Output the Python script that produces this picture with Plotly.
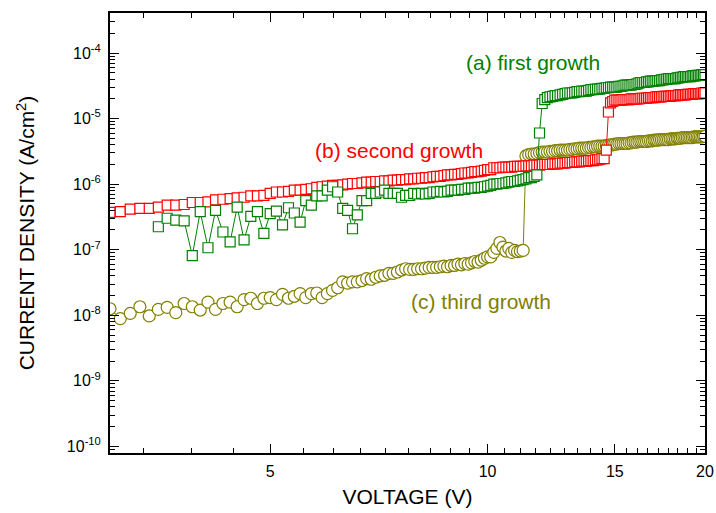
import plotly.graph_objects as go

# Voltage sweep (V)
voltage = [
    3.0, 3.1, 3.2, 3.3, 3.4, 3.5, 3.6, 3.7, 3.8, 3.9,
    4.0, 4.1, 4.2, 4.3, 4.4, 4.5, 4.6, 4.7, 4.8, 4.9,
    5.0, 5.1, 5.2, 5.3, 5.4, 5.5, 5.6, 5.7, 5.8, 5.9,
    6.0, 6.1, 6.2, 6.3, 6.4, 6.5, 6.6, 6.7, 6.8, 6.9,
    7.0, 7.1, 7.2, 7.3, 7.4, 7.5, 7.6, 7.7, 7.8, 7.9,
    8.0, 8.1, 8.2, 8.3, 8.4, 8.5, 8.6, 8.7, 8.8, 8.9,
    9.0, 9.1, 9.2, 9.3, 9.4, 9.5, 9.6, 9.7, 9.8, 9.9,
    10.0, 10.1, 10.2, 10.3, 10.4, 10.5, 10.6, 10.7, 10.8, 10.9,
    11.0, 11.1, 11.2, 11.3, 11.4, 11.5, 11.6, 11.7, 11.8, 11.9,
    12.0, 12.1, 12.2, 12.3, 12.4, 12.5, 12.6, 12.7, 12.8, 12.9,
    13.0, 13.1, 13.2, 13.3, 13.4, 13.5, 13.6, 13.7, 13.8, 13.9,
    14.0, 14.1, 14.2, 14.3, 14.4, 14.5, 14.6, 14.7, 14.8, 14.9,
    15.0, 15.1, 15.2, 15.3, 15.4, 15.5, 15.6, 15.7, 15.8, 15.9,
    16.0, 16.1, 16.2, 16.3, 16.4, 16.5, 16.6, 16.7, 16.8, 16.9,
    17.0, 17.1, 17.2, 17.3, 17.4, 17.5, 17.6, 17.7, 17.8, 17.9,
    18.0, 18.1, 18.2, 18.3, 18.4, 18.5, 18.6, 18.7, 18.8, 18.9,
    19.0, 19.1, 19.2, 19.3, 19.4, 19.5, 19.6, 19.7, 19.8, 19.9,
    20.0,
]

# Current density, as decade exponents: J = 10**value (A/cm^2)
# (b) second growth, 3.0 V .. 20.0 V
second_log_j = [
    -6.43, -6.42, -6.38, -6.37, -6.37, -6.35, -6.32, -6.32, -6.31, -6.28,
    -6.28, -6.27, -6.24, -6.23, -6.22, -6.21, -6.20, -6.18, -6.18, -6.17,
    -6.14, -6.12, -6.12, -6.11, -6.09, -6.09, -6.08, -6.07, -6.05, -6.04,
    -6.03, -6.02, -6.02, -6.01, -6.00, -5.99, -5.99, -5.98, -5.97, -5.97,
    -5.96, -5.96, -5.95, -5.95, -5.94, -5.94, -5.93, -5.93, -5.92, -5.92,
    -5.91, -5.91, -5.90, -5.90, -5.89, -5.88, -5.88, -5.87, -5.86, -5.86,
    -5.85, -5.85, -5.84, -5.83, -5.83, -5.82, -5.81, -5.81, -5.80, -5.79,
    -5.78, -5.78, -5.75, -5.75, -5.75, -5.74, -5.74, -5.74, -5.74, -5.73,
    -5.73, -5.73, -5.73, -5.72, -5.72, -5.72, -5.71, -5.71, -5.71, -5.70,
    -5.70, -5.70, -5.70, -5.69, -5.69, -5.69, -5.68, -5.68, -5.68, -5.67,
    -5.67, -5.67, -5.66, -5.66, -5.66, -5.65, -5.65, -5.65, -5.64, -5.64,
    -5.64, -5.63, -5.63, -5.62, -5.61, -5.61, -5.48, -4.90, -4.76, -4.74,
    -4.72, -4.72, -4.72, -4.72, -4.71, -4.71, -4.71, -4.71, -4.70, -4.70,
    -4.70, -4.70, -4.70, -4.69, -4.69, -4.69, -4.69, -4.68, -4.68, -4.68,
    -4.68, -4.67, -4.67, -4.67, -4.67, -4.66, -4.66, -4.66, -4.66, -4.66,
    -4.65, -4.65, -4.65, -4.65, -4.64, -4.64, -4.64, -4.64, -4.64, -4.63,
    -4.63, -4.63, -4.63, -4.62, -4.62, -4.62, -4.62, -4.62, -4.61, -4.61,
    -4.61,
]

# (a) first growth, 3.5 V .. 20.0 V
first_start_index = 5
first_log_j = [
    -6.65, -6.52, -6.55, -6.56, -7.09,
    -6.42, -6.97, -6.40, -6.73, -6.88, -6.35, -6.85, -6.49, -6.42, -6.75,
    -6.45, -6.41, -6.62, -6.36, -6.44, -6.58, -6.25, -6.32, -6.18, -6.18,
    -6.09, -6.04, -6.12, -6.37, -6.40, -6.68, -6.47, -6.25, -6.25, -6.14,
    -6.14, -6.12, -6.09, -6.14, -6.14, -6.14, -6.20, -6.17, -6.17, -6.14,
    -6.15, -6.14, -6.15, -6.14, -6.12, -6.12, -6.11, -6.12, -6.11, -6.09,
    -6.09, -6.09, -6.08, -6.08, -6.06, -6.06, -6.06, -6.05, -6.05, -6.04,
    -6.03, -6.02, -6.00, -6.00, -5.99, -5.99, -5.98, -5.97, -5.96, -5.96,
    -5.95, -5.94, -5.93, -5.92, -5.90, -5.90, -5.88, -5.86, -5.22, -4.77,
    -4.71, -4.68, -4.67, -4.66, -4.65, -4.65, -4.64, -4.63, -4.62, -4.61,
    -4.61, -4.61, -4.60, -4.59, -4.59, -4.58, -4.58, -4.58, -4.57, -4.56,
    -4.56, -4.55, -4.55, -4.55, -4.54, -4.54, -4.53, -4.53, -4.52, -4.52,
    -4.52, -4.52, -4.51, -4.51, -4.50, -4.49, -4.49, -4.49, -4.49, -4.48,
    -4.48, -4.47, -4.46, -4.45, -4.45, -4.45, -4.44, -4.44, -4.43, -4.43,
    -4.43, -4.42, -4.42, -4.42, -4.41, -4.41, -4.40, -4.40, -4.39, -4.39,
    -4.39, -4.39, -4.39, -4.38, -4.38, -4.37, -4.37, -4.36, -4.36, -4.36,
    -4.36, -4.36, -4.35, -4.35, -4.35, -4.34, -4.34, -4.34, -4.33, -4.33,
    -4.33,
]

# (c) third growth, 3.0 V .. 20.0 V
third_log_j = [
    -7.90, -8.05, -7.97, -7.87, -8.01, -7.91, -7.88, -7.96, -7.82, -7.87,
    -7.92, -7.80, -7.91, -7.82, -7.80, -7.87, -7.76, -7.74, -7.82, -7.74,
    -7.73, -7.76, -7.68, -7.74, -7.71, -7.67, -7.73, -7.67, -7.66, -7.73,
    -7.67, -7.62, -7.58, -7.49, -7.51, -7.49, -7.49, -7.47, -7.44, -7.45,
    -7.42, -7.40, -7.39, -7.36, -7.36, -7.34, -7.31, -7.29, -7.30, -7.30,
    -7.29, -7.29, -7.28, -7.27, -7.27, -7.27, -7.26, -7.25, -7.26, -7.24,
    -7.24, -7.22, -7.23, -7.21, -7.22, -7.20, -7.18, -7.19, -7.16, -7.13,
    -7.11, -7.11, -7.04, -6.98, -6.89, -6.96, -7.02, -6.98, -7.04, -7.01,
    -7.03, -7.02, -7.01, -5.57, -5.55, -5.54, -5.54, -5.53, -5.52, -5.51,
    -5.51, -5.51, -5.50, -5.50, -5.49, -5.49, -5.48, -5.48, -5.48, -5.48,
    -5.47, -5.47, -5.46, -5.46, -5.45, -5.45, -5.45, -5.45, -5.44, -5.44,
    -5.43, -5.43, -5.42, -5.42, -5.42, -5.42, -5.41, -5.41, -5.40, -5.40,
    -5.39, -5.39, -5.38, -5.38, -5.38, -5.38, -5.38, -5.37, -5.37, -5.36,
    -5.36, -5.36, -5.35, -5.35, -5.35, -5.35, -5.35, -5.34, -5.34, -5.34,
    -5.33, -5.33, -5.33, -5.32, -5.32, -5.32, -5.32, -5.32, -5.32, -5.31,
    -5.31, -5.31, -5.31, -5.30, -5.30, -5.30, -5.29, -5.29, -5.29, -5.29,
    -5.29, -5.29, -5.29, -5.28, -5.28, -5.28, -5.28, -5.28, -5.28, -5.27,
    -5.27,
]

series_names = ["(c) third growth", "(b) second growth", "(a) first growth"]
x_tick_values = [5, 10, 15, 20]
x_tick_labels = ["5", "10", "15", "20"]
y_tick_exponents = [-10, -9, -8, -7, -6, -5, -4]

GREEN = "#008000"
RED = "#ff0000"
OLIVE = "#808000"
FONT = "Arial, Liberation Sans, sans-serif"

first_j = [10 ** v for v in first_log_j]
second_j = [10 ** v for v in second_log_j]
third_j = [10 ** v for v in third_log_j]

fig = go.Figure()
fig.add_trace(go.Scatter(
    x=voltage, y=third_j, mode="lines+markers", name=series_names[0],
    line=dict(color=OLIVE, width=1),
    marker=dict(symbol="circle", size=12, color="white", line=dict(color=OLIVE, width=1.2)),
))
fig.add_trace(go.Scatter(
    x=voltage, y=second_j, mode="lines+markers", name=series_names[1],
    line=dict(color=RED, width=1),
    marker=dict(symbol="square", size=10, color="white", line=dict(color=RED, width=1.2)),
))
fig.add_trace(go.Scatter(
    x=voltage[first_start_index:], y=first_j, mode="lines+markers", name=series_names[2],
    line=dict(color=GREEN, width=1),
    marker=dict(symbol="square", size=10, color="white", line=dict(color=GREEN, width=1.2)),
))

# minor x ticks: 8 per 5 V interval
minor_x = [m * 5 / 9 for m in range(6, 36) if m % 9 != 0]
minor_y = [k * 10.0 ** e for e in range(-11, -3) for k in range(2, 10)]

fig.update_layout(
    width=716, height=513,
    margin=dict(l=110, r=11, t=13, b=60, autoexpand=False),
    paper_bgcolor="white", plot_bgcolor="white",
    showlegend=False,
    font=dict(family=FONT, color="black", size=16),
    xaxis=dict(
        type="log", range=[0.47712, 1.30103], automargin=False,
        tickvals=x_tick_values, ticktext=x_tick_labels,
        ticks="inside", ticklen=9, tickwidth=1.3, tickcolor="black",
        showline=True, linecolor="black", linewidth=2, mirror="allticks",
        showgrid=False, zeroline=False,
        tickfont=dict(size=16), ticklabelstandoff=3,
        minor=dict(tickmode="array", tickvals=minor_x, ticks="inside",
                   ticklen=5, tickwidth=1.2, tickcolor="black", showgrid=False),
        title=dict(text="VOLTAGE (V)", font=dict(size=21), standoff=10),
    ),
    yaxis=dict(
        type="log", range=[-10.1, -3.39], automargin=False,
        tickvals=[10.0 ** e for e in y_tick_exponents],
        ticktext=["10<sup>%d</sup>" % e for e in y_tick_exponents],
        ticks="inside", ticklen=9, tickwidth=1.3, tickcolor="black",
        showline=True, linecolor="black", linewidth=2, mirror="allticks",
        showgrid=False, zeroline=False,
        tickfont=dict(size=16), ticklabelstandoff=4,
        minor=dict(tickmode="array", tickvals=minor_y, ticks="inside",
                   ticklen=5, tickwidth=1.2, tickcolor="black", showgrid=False),
        title=dict(text="CURRENT DENSITY (A/cm<sup>2</sup>)", font=dict(size=21), standoff=26),
    ),
    annotations=[
        dict(text=series_names[2], xref="paper", yref="paper", x=0.711, y=0.8864,
             showarrow=False, font=dict(size=21, color=GREEN, family=FONT),
             xanchor="center", yanchor="middle"),
        dict(text=series_names[1], xref="paper", yref="paper", x=0.4857, y=0.6864,
             showarrow=False, font=dict(size=21, color=RED, family=FONT),
             xanchor="center", yanchor="middle"),
        dict(text=series_names[0], xref="paper", yref="paper", x=0.6235, y=0.3432,
             showarrow=False, font=dict(size=21, color=OLIVE, family=FONT),
             xanchor="center", yanchor="middle"),
    ],
)

fig.write_html("out.html", config={"displayModeBar": False},
               post_script="document.body.style.margin='0px';")
